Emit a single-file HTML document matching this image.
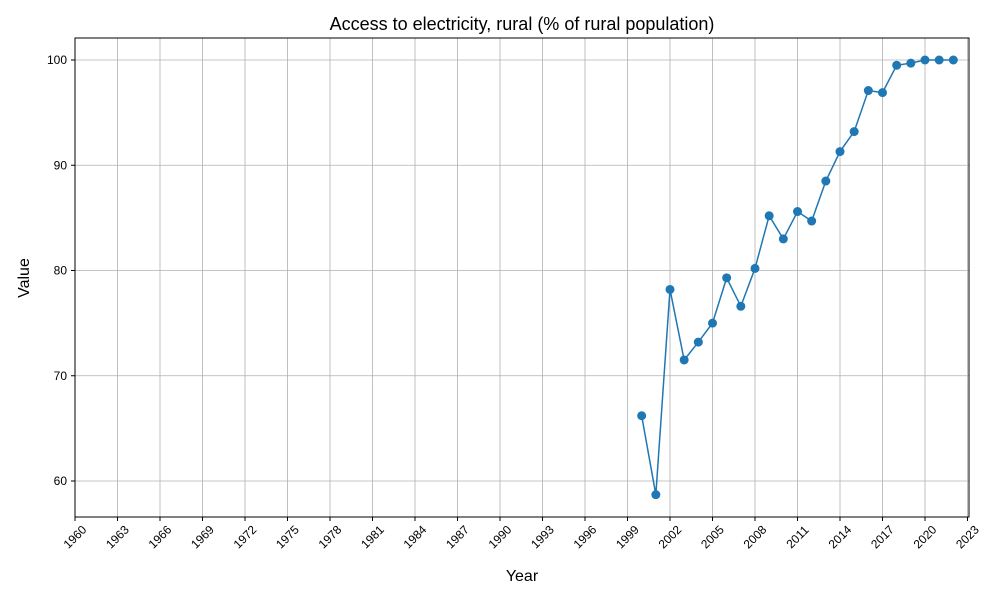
<!DOCTYPE html>
<html><head><meta charset="utf-8"><style>
body{margin:0;background:#fff;font-family:"Liberation Sans","DejaVu Sans",sans-serif;}
</style></head><body>
<svg id="chart" width="1000" height="600" xmlns="http://www.w3.org/2000/svg">
<rect width="1000" height="600" fill="#fff"/>
<text x="522" y="30" text-anchor="middle" font-size="18">Access to electricity, rural (% of rural population)</text>
<g id="grid"></g>
<g id="series"></g>
<rect x="75" y="38" width="894" height="479" fill="none" stroke="#000" stroke-width="1"/>
<g id="ticks"></g>
<text x="522" y="581" text-anchor="middle" font-size="16">Year</text>
<text x="29" y="278" text-anchor="middle" font-size="16" transform="rotate(-90 29 278)">Value</text>
</svg>
<script>
const years=[2000,2001,2002,2003,2004,2005,2006,2007,2008,2009,2010,2011,2012,2013,2014,2015,2016,2017,2018,2019,2020,2021,2022];
const values=[66.2,58.7,78.2,71.5,73.2,75.0,79.3,76.6,80.2,85.2,83.0,85.6,84.7,88.5,91.3,93.2,97.1,96.9,99.5,99.7,100,100,100];
const xTicks=[1960,1963,1966,1969,1972,1975,1978,1981,1984,1987,1990,1993,1996,1999,2002,2005,2008,2011,2014,2017,2020,2023];
const yTicks=[60,70,80,90,100];
const NS="http://www.w3.org/2000/svg";
const x=v=>75+(v-1960)*(850/60);
const y=v=>481-(v-60)*(421/40);
function mk(t,a,p){const e=document.createElementNS(NS,t);for(const k in a)e.setAttribute(k,a[k]);p.appendChild(e);return e;}
const grid=document.getElementById('grid'),ticks=document.getElementById('ticks'),ser=document.getElementById('series');
xTicks.forEach(t=>{
 const g=mk('line',{x1:x(t),x2:x(t),y1:38,y2:517,stroke:'#b0b0b0','stroke-width':0.8},grid);
 
 
 mk('line',{x1:x(t),x2:x(t),y1:517,y2:521,stroke:'#000'},ticks);
 const tx=mk('text',{x:x(t),y:541,'font-size':12,'text-anchor':'middle',transform:`rotate(-45 ${x(t)} 537)`},ticks);
 tx.textContent=t;
 
 
});
yTicks.forEach(t=>{
 const g=mk('line',{x1:75,x2:969,y1:y(t),y2:y(t),stroke:'#b0b0b0','stroke-width':0.8},grid);
 
 
 mk('line',{x1:71,x2:75,y1:y(t),y2:y(t),stroke:'#000'},ticks);
 const tx=mk('text',{x:67,y:y(t)+4,'font-size':12,'text-anchor':'end'},ticks);
 tx.textContent=t;
 
 
});
const line=mk('polyline',{points:years.map((yr,i)=>x(yr)+','+y(values[i])).join(' '),fill:'none',stroke:'#1f77b4','stroke-width':1.5},ser);


years.forEach((yr,i)=>{
 const c=mk('circle',{cx:x(yr),cy:y(values[i]),r:4.5,fill:'#1f77b4'},ser);
 
 
});
</script>
</body></html>
